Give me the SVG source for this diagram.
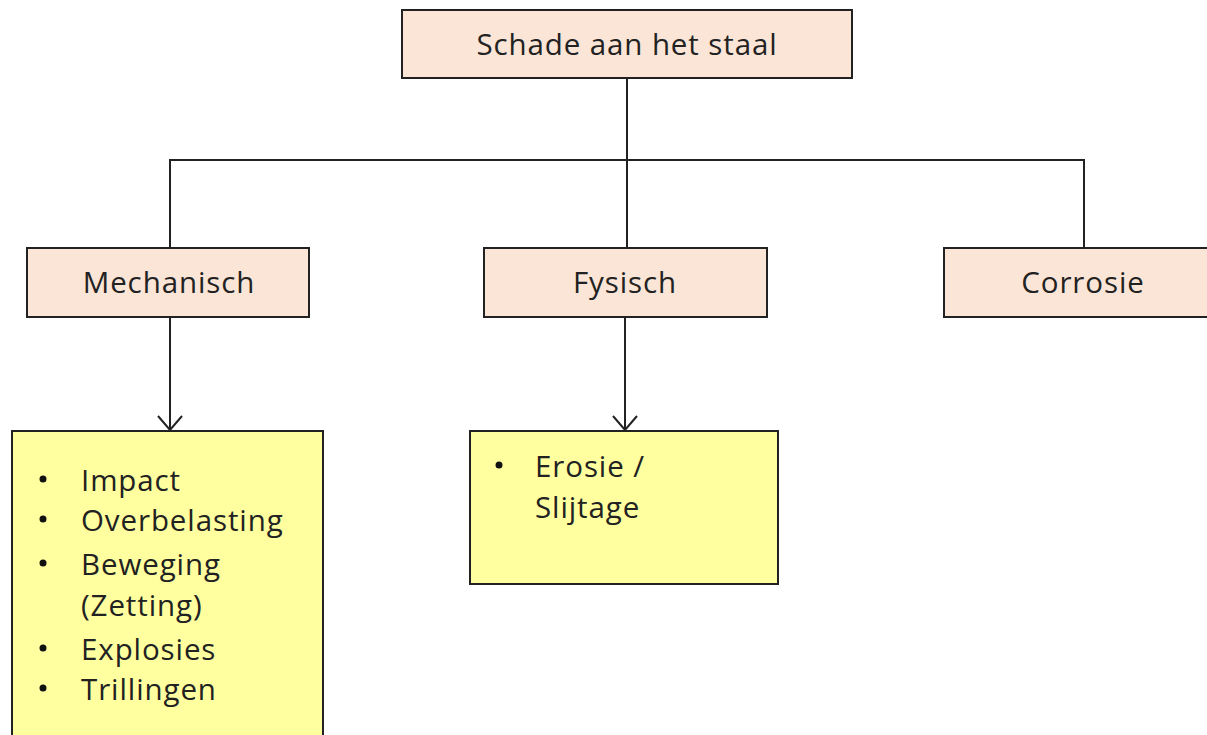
<svg xmlns="http://www.w3.org/2000/svg" width="1207" height="735" viewBox="0 0 1207 735">
  <defs>
    <style>
      .box { fill: #fbe5d6; stroke: #222; stroke-width: 2; }
      .list { fill: #ffff9f; stroke: #222; stroke-width: 2; }
      .label { font-family: "Open Sans", Lato, sans-serif; font-size: 29.5px; font-weight: 500; fill: #222; letter-spacing: 0.9px; }
      .mid { text-anchor: middle; }
      .bullet { fill: #111; }
      .wire { fill: none; stroke: #222; stroke-width: 2; }
    </style>
    <marker id="arrow" markerWidth="28" markerHeight="28" refX="15" refY="13" orient="auto" markerUnits="userSpaceOnUse">
      <path d="M1,1 L15,13 L1,25" fill="none" stroke="#222" stroke-width="2"/>
    </marker>
  </defs>
  <rect width="1207" height="735" fill="#ffffff"/>

  <!-- connectors -->
  <g id="connectors">
    <path class="wire" d="M627,78 V248"/>
    <path class="wire" d="M170,248 V160 H1084 V248"/>
    <path class="wire" d="M170,317 V430" marker-end="url(#arrow)"/>
    <path class="wire" d="M625,317 V430" marker-end="url(#arrow)"/>
  </g>

  <g id="root">
    <rect class="box" x="402" y="10" width="450" height="68"/>
    <text class="label mid" x="627" y="55">Schade aan het staal</text>
  </g>

  <g id="mechanisch">
    <rect class="box" x="27" y="248" width="282" height="69"/>
    <text class="label mid" x="169" y="293">Mechanisch</text>
  </g>

  <g id="fysisch">
    <rect class="box" x="484" y="248" width="283" height="69"/>
    <text class="label mid" x="625" y="293">Fysisch</text>
  </g>

  <g id="corrosie">
    <rect class="box" x="944" y="248" width="275" height="69"/>
    <text class="label mid" x="1083" y="293">Corrosie</text>
  </g>

  <g id="mechanisch-list">
    <rect class="list" x="12" y="431" width="311" height="320"/>
    <circle class="bullet" cx="43" cy="479" r="3.5"/>
    <circle class="bullet" cx="43" cy="519" r="3.5"/>
    <circle class="bullet" cx="43" cy="563" r="3.5"/>
    <circle class="bullet" cx="43" cy="648" r="3.5"/>
    <circle class="bullet" cx="43" cy="688" r="3.5"/>
    <text class="label" x="81" y="491">Impact</text>
    <text class="label" x="81" y="531">Overbelasting</text>
    <text class="label" x="81" y="575">Beweging</text>
    <text class="label" x="81" y="616">(Zetting)</text>
    <text class="label" x="81" y="660">Explosies</text>
    <text class="label" x="81" y="700">Trillingen</text>
  </g>

  <g id="fysisch-list">
    <rect class="list" x="470" y="431" width="308" height="153"/>
    <circle class="bullet" cx="499" cy="465" r="3.5"/>
    <text class="label" x="535" y="477">Erosie /</text>
    <text class="label" x="535" y="518">Slijtage</text>
  </g>
</svg>
